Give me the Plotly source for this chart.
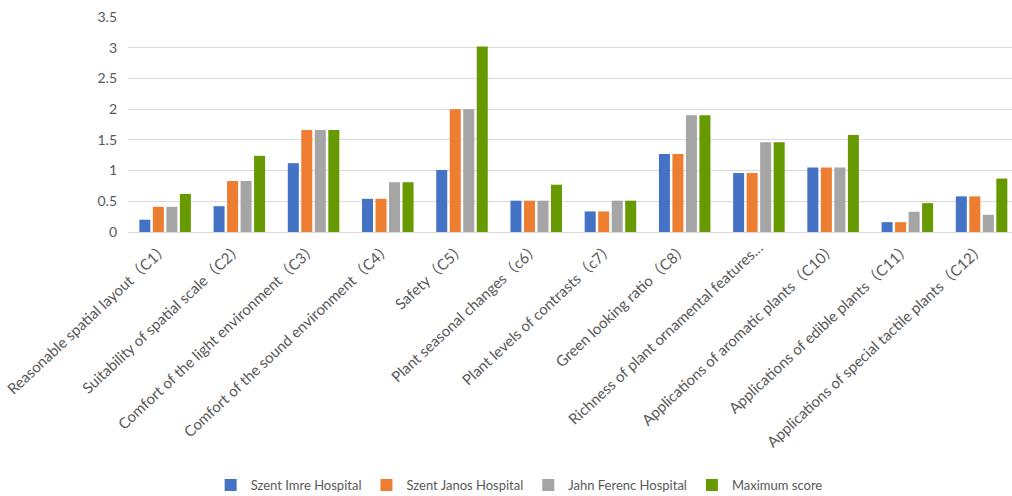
import plotly.graph_objects as go

# Evaluation criteria (x-axis categories)
categories = [
    "Reasonable spatial layout（C1）",
    "Suitability of spatial scale（C2）",
    "Comfort of the light environment（C3）",
    "Comfort of the sound environment（C4）",
    "Safety（C5）",
    "Plant seasonal changes（c6）",
    "Plant levels of contrasts（c7）",
    "Green looking ratio（C8）",
    "Richness of plant ornamental features…",
    "Applications of aromatic plants（C10）",
    "Applications of edible plants（C11）",
    "Applications of special tactile plants（C12）",
]

# Scores per hospital
szent_imre = [0.20, 0.42, 1.12, 0.54, 1.01, 0.51, 0.335, 1.27, 0.96, 1.05, 0.16, 0.58]
szent_janos = [0.41, 0.83, 1.66, 0.54, 2.00, 0.51, 0.335, 1.27, 0.96, 1.05, 0.16, 0.58]
jahn_ferenc = [0.41, 0.83, 1.66, 0.81, 2.00, 0.51, 0.51, 1.90, 1.46, 1.05, 0.33, 0.28]
maximum_score = [0.62, 1.24, 1.66, 0.81, 3.02, 0.77, 0.51, 1.90, 1.46, 1.58, 0.47, 0.87]

y_ticks = [0, 0.5, 1, 1.5, 2, 2.5, 3, 3.5]
y_tick_text = ["0", "0.5", "1", "1.5", "2", "2.5", "3", "3.5"]

series = [
    ("Szent Imre Hospital", szent_imre, "#4472C4"),
    ("Szent Janos Hospital", szent_janos, "#ED7D31"),
    ("Jahn Ferenc Hospital", jahn_ferenc, "#A5A5A5"),
    ("Maximum score", maximum_score, "#669A00"),
]

FONT = "Lato, 'Noto Sans CJK SC', sans-serif"
TEXT_COLOR = "#595959"

fig = go.Figure()
for name, values, color in series:
    fig.add_trace(go.Bar(
        name=name,
        x=categories,
        y=values,
        marker=dict(color=color, line=dict(width=0)),
    ))

fig.update_layout(
    width=1012,
    height=496,
    barmode="group",
    bargap=0.272,
    bargroupgap=0.185,
    plot_bgcolor="white",
    paper_bgcolor="white",
    margin=dict(l=128, r=0, t=17, b=264, autoexpand=False),
    font=dict(family=FONT, size=13, color=TEXT_COLOR),
    showlegend=True,
    legend=dict(
        orientation="h",
        xref="container",
        yref="container",
        x=0.513,
        xanchor="center",
        y=0.022,
        yanchor="middle",
        font=dict(family=FONT, size=13, color=TEXT_COLOR),
        itemwidth=30,
        traceorder="normal",
    ),
)

fig.update_xaxes(
    type="category",
    range=[-0.5, 11.41],
    tickangle=-43,
    tickfont=dict(family=FONT, size=15, color=TEXT_COLOR),
    showgrid=False,
    showline=True,
    linecolor="#D9D9D9",
    linewidth=1,
    ticks="",
    automargin=False,
)

fig.update_yaxes(
    range=[0, 3.5],
    tickvals=y_ticks,
    ticktext=y_tick_text,
    tickfont=dict(family=FONT, size=14, color=TEXT_COLOR),
    showgrid=True,
    gridcolor="#D9D9D9",
    gridwidth=1,
    zeroline=False,
    showline=False,
    ticks="",
    ticklabelstandoff=10,
    automargin=False,
)

fig.write_html("out.html")
